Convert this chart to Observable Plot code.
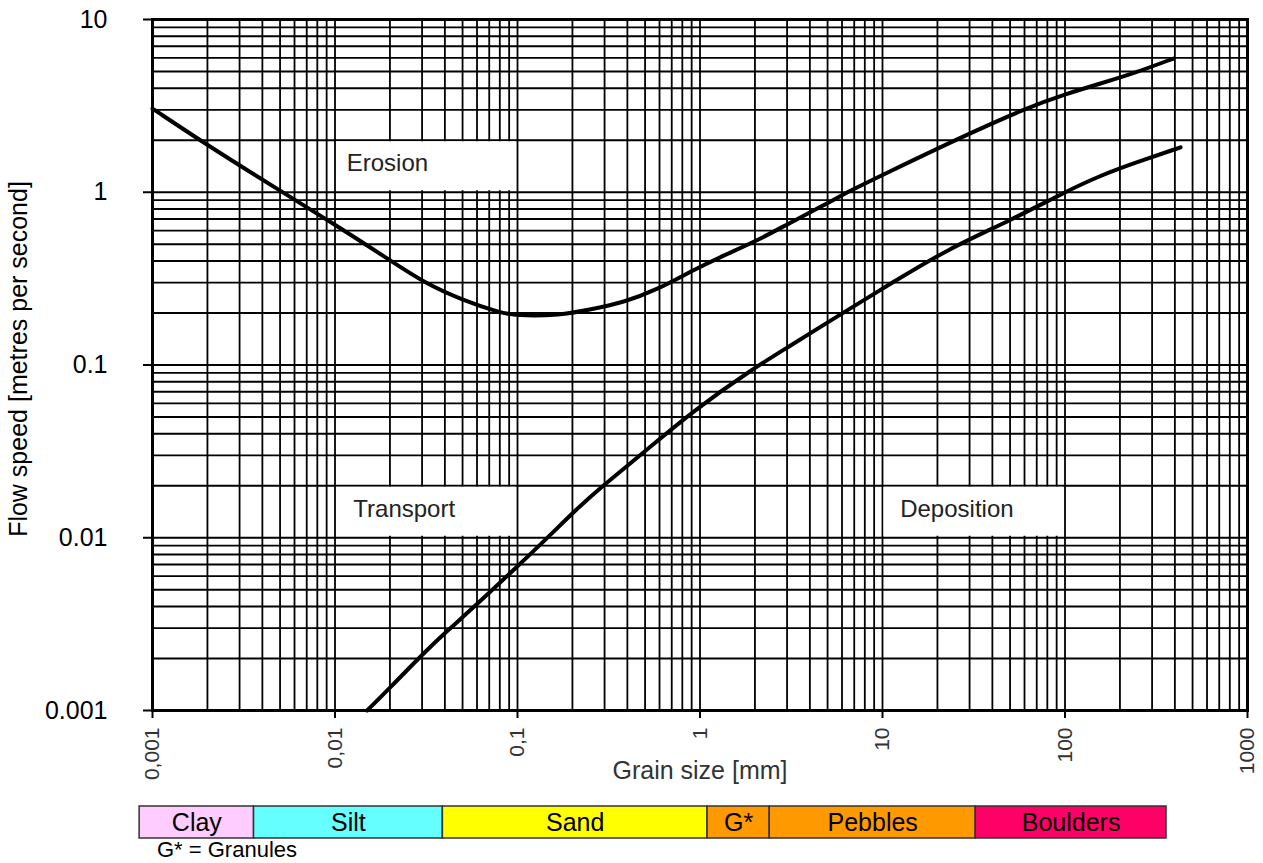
<!DOCTYPE html>
<html>
<head>
<meta charset="utf-8">
<script src="https://cdn.jsdelivr.net/npm/d3@7"></script>
<script src="https://cdn.jsdelivr.net/npm/@observablehq/plot@0.6"></script>
<style>
html, body { margin: 0; padding: 0; background: #fff; overflow: hidden; }
body { font-family: "Liberation Sans", Arial, sans-serif; width: 1263px; }
svg { display: block; }
#caption { font-size: 22px; line-height: 22px; height: 24px; padding-left: 157px; color: #000; white-space: nowrap; }
</style>
</head>
<body>
<div id="chart"></div>
<div id="bar"></div>
<div id="caption">G* = Granules</div>
<script>
// ---- Data ----
// Erosion curve: grain size [mm] vs flow speed [m/s]
const erosionSize  = [0.001, 0.002, 0.005, 0.0098, 0.0201, 0.0305, 0.0506, 0.0807, 0.0951, 0.172, 0.251, 0.381, 0.585, 0.887, 1.345, 2.066, 3.133, 4.75, 6.68, 10.13, 26.76, 62.3, 103.2, 156.5, 237.3, 393];
const erosionSpeed = [3.05, 1.87, 1.02, 0.659, 0.403, 0.301, 0.236, 0.201, 0.1934, 0.1934, 0.2096, 0.230, 0.2735, 0.3477, 0.4303, 0.5256, 0.6683, 0.8381, 1.0236, 1.267, 2.075, 3.095, 3.729, 4.261, 4.869, 5.946];

// Deposition curve
const depositionSize  = [0.0150, 0.0201, 0.0305, 0.0413, 0.0574, 0.104, 0.146, 0.213, 0.285, 0.49, 0.921, 1.96, 3.01, 6.1, 11.1, 23.1, 50.2, 103, 157, 237, 430];
const depositionSpeed = [0.0010, 0.00136, 0.00214, 0.0029, 0.00394, 0.0071, 0.0100, 0.0148, 0.0195, 0.0311, 0.0545, 0.0955, 0.126, 0.201, 0.296, 0.4725, 0.686, 1.02, 1.25, 1.47, 1.82];

// Axis ticks
const xTicks = [0.001, 0.01, 0.1, 1, 10, 100, 1000];
const yTicks = [0.001, 0.01, 0.1, 1, 10];

// Region label boxes
const regionLabels = ["Erosion", "Transport", "Deposition"];
const regionX1 = [0.01, 0.01, 10];
const regionX2 = [0.1, 0.1, 100];
const regionY1 = [1, 0.01, 0.01];
const regionY2 = [2, 0.02, 0.02];
const regionTextX = [0.0116, 0.0126, 12.5];
const regionTextY = [1.48, 0.0147, 0.0147];

// Grain size classes bar
const classNames  = ["Clay", "Silt", "Sand", "G*", "Pebbles", "Boulders"];
const classFrom   = [0.00085, 0.0036, 0.039, 1.1, 2.41, 32.4];
const classTo     = [0.0036, 0.039, 1.1, 2.41, 32.4, 360];
const classColors = ["#ffccff", "#66ffff", "#ffff00", "#ff9900", "#ff9900", "#ff0066"];

// ---- Build tables ----
const erosion = erosionSize.map((s, i) => ({size: s, speed: erosionSpeed[i]}));
const deposition = depositionSize.map((s, i) => ({size: s, speed: depositionSpeed[i]}));
const regions = regionLabels.map((label, i) => ({
  label, x1: regionX1[i], x2: regionX2[i], y1: regionY1[i], y2: regionY2[i],
  tx: regionTextX[i], ty: regionTextY[i]
}));
const classes = classNames.map((name, i) => ({name, from: classFrom[i], to: classTo[i], color: classColors[i]}));

const FONT = "'Liberation Sans', Arial, sans-serif";
const W = 1263;
const xDomain = [0.001, 1000];

const chart = Plot.plot({
  width: W,
  height: 795,
  marginLeft: 152,
  marginRight: 16,
  marginTop: 19,
  marginBottom: 85,
  style: {fontFamily: FONT, background: "#fff", overflow: "visible"},
  x: {type: "log", domain: xDomain},
  y: {type: "log", domain: [0.001, 10]},
  marks: [
    Plot.gridX({ticks: 40, stroke: "#000", strokeOpacity: 1, strokeWidth: 1.8}),
    Plot.gridY({ticks: 40, stroke: "#000", strokeOpacity: 1, strokeWidth: 1.8}),
    Plot.rect(regions, {x1: "x1", x2: "x2", y1: "y1", y2: "y2", fill: "#fff", inset: 1.5}),
    Plot.text(regions, {x: "tx", y: "ty", text: "label", textAnchor: "start", fontSize: 24, fill: "#222"}),
    Plot.line(erosion, {x: "size", y: "speed", curve: "basis", stroke: "#000", strokeWidth: 4}),
    Plot.line(deposition, {x: "size", y: "speed", curve: "basis", stroke: "#000", strokeWidth: 4}),
    Plot.frame({stroke: "#000", strokeWidth: 3}),
    Plot.axisX({ticks: xTicks, tickFormat: d => String(d).replace(".", ","), tickRotate: -90,
                tickSize: 8, tickPadding: 9, fontSize: 21, fill: "#333", strokeWidth: 2, label: null}),
    Plot.axisY({ticks: yTicks, tickFormat: d => String(d), tickSize: 9, tickPadding: 36,
                fontSize: 25, fill: "#000", strokeWidth: 2, label: null}),
    Plot.text(["Grain size [mm]"], {frameAnchor: "bottom", dy: 68, text: d => d, fontSize: 25, fill: "#333"}),
    Plot.text(["Flow speed [metres per second]"], {frameAnchor: "left", textAnchor: "middle", dx: -134, dy: -6, rotate: -90, text: d => d, fontSize: 25, fill: "#000"})
  ]
});
document.getElementById("chart").append(chart);

const bar = Plot.plot({
  width: W,
  height: 44,
  marginLeft: 152,
  marginRight: 16,
  marginTop: 11,
  marginBottom: 1,
  style: {fontFamily: FONT, background: "#fff", overflow: "visible"},
  x: {type: "log", domain: xDomain, axis: null},
  color: {type: "identity"},
  marks: [
    Plot.rect(classes, {x1: "from", x2: "to", fill: "color", stroke: "#333", strokeWidth: 1.5}),
    Plot.text(classes, {x: d => Math.sqrt(d.from * d.to), text: "name", frameAnchor: "middle", fontSize: 25, fill: "#000"})
  ]
});
document.getElementById("bar").append(bar);
</script>
</body>
</html>
